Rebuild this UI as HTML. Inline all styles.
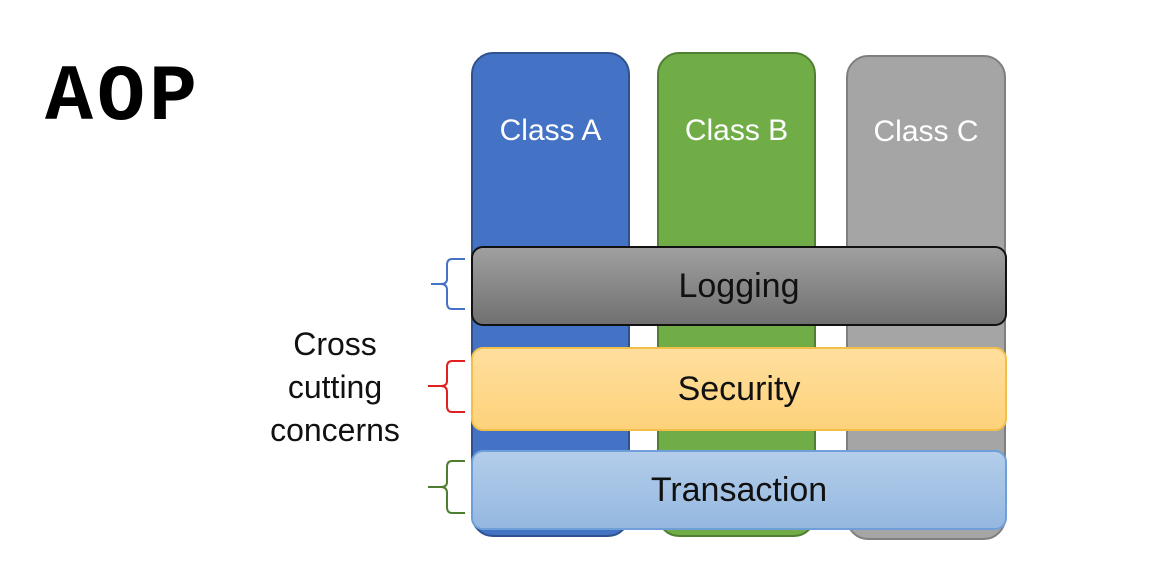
<!DOCTYPE html>
<html><head><style>
body{margin:0;width:1161px;height:581px;background:#fff;position:relative;overflow:hidden;font-family:"Liberation Sans",sans-serif}
.a{position:absolute}
.col{position:absolute;border-radius:22px;color:#fff;font-size:30px;text-align:center;box-sizing:border-box}
.band{position:absolute;left:471px;width:536px;border-radius:12px;box-sizing:border-box;text-align:center;font-size:34px;color:#111}
</style></head><body>
<div class="a" style="left:45px;top:54px;font-family:'Liberation Mono',monospace;font-weight:bold;font-size:80px;letter-spacing:4px;line-height:90px">AOP</div>
<div class="col" style="left:471px;top:52px;width:159px;height:485px;background:#4472c4;border:2px solid #2f528f;padding-top:60px">Class A</div>
<div class="col" style="left:657px;top:52px;width:159px;height:485px;background:#70ad47;border:2px solid #507e32;padding-top:60px">Class B</div>
<div class="col" style="left:846px;top:55px;width:160px;height:485px;background:#a5a5a5;border:2px solid #7f7f7f;padding-top:58px">Class C</div>
<div class="band" style="top:246px;height:80px;background:linear-gradient(#a0a0a0,#707070);border:2px solid #111;line-height:76px">Logging</div>
<div class="band" style="top:347px;height:84px;background:linear-gradient(#ffdf9e,#fdd27a);border:2px solid #f2c04a;line-height:80px">Security</div>
<div class="band" style="top:450px;height:80px;background:linear-gradient(#b3cdea,#95b8e0);border:2px solid #6f9fd8;line-height:76px">Transaction</div>
<div class="a" style="left:255px;top:323px;width:160px;text-align:center;font-size:32px;line-height:43px;color:#111">Cross<br>cutting<br>concerns</div>
<svg class="a" style="left:0;top:0" width="1161" height="581">
<path d="M465 259 H452 Q447 259 447 265 V279 Q447 284 441 284 H431 M441 284 Q447 284 447 290 V303 Q447 309 452 309 H465" fill="none" stroke="#4472c4" stroke-width="2"/>
<path d="M465 361 H452 Q447 361 447 367 V381 Q447 386 441 386 H428 M441 386 Q447 386 447 392 V406 Q447 412 452 412 H465" fill="none" stroke="#e02020" stroke-width="2"/>
<path d="M465 461 H452 Q447 461 447 467 V482 Q447 487 441 487 H428 M441 487 Q447 487 447 493 V507 Q447 513 452 513 H465" fill="none" stroke="#4f7d2f" stroke-width="2"/>
</svg>
</body></html>
